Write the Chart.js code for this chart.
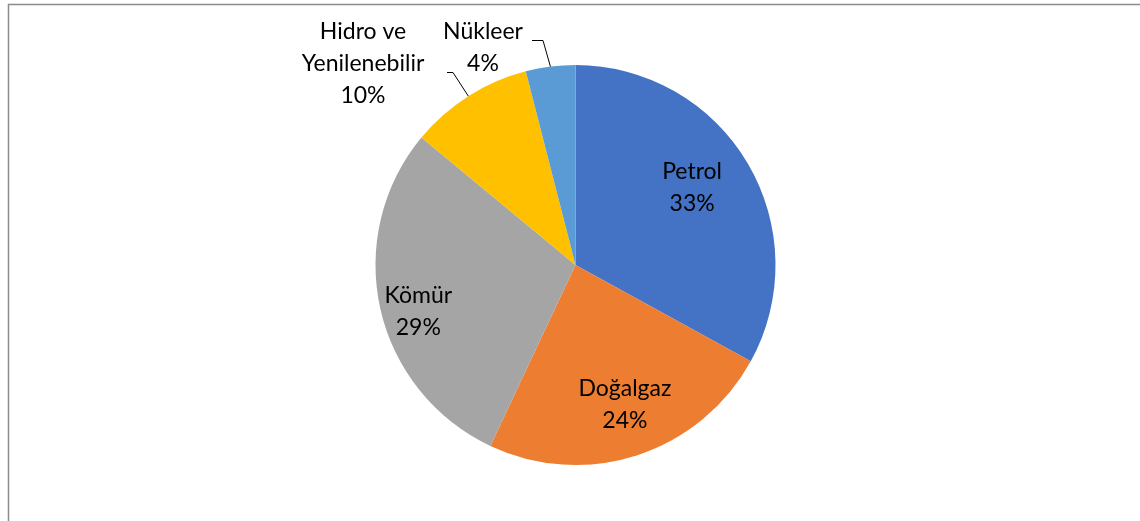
<!DOCTYPE html>
<html>
<head>
<meta charset="utf-8">
<script src="https://cdn.jsdelivr.net/npm/chart.js@4/dist/chart.umd.min.js"></script>
<style>
  html, body { margin: 0; padding: 0; background: #fff; }
  #wrap { width: 1140px; height: 521px; position: relative; }
</style>
</head>
<body>
<div id="wrap"><canvas id="myChart" width="1140" height="521"></canvas></div>
<script>
const categories = ["Petrol", "Doğalgaz", "Kömür", "Hidro ve Yenilenebilir", "Nükleer"];
const shares = [33, 24, 29, 10, 4];
const labelLines = [["Petrol"], ["Doğalgaz"], ["Kömür"], ["Hidro ve", "Yenilenebilir"], ["Nükleer"]];
const colors = ["#4472C4", "#ED7D31", "#A5A5A5", "#FFC000", "#5B9BD5"];

// label placement: inside labels use a radius factor, outside ones a fixed spot + leader line
const labelPos = [
  { inside: true, f: 0.70, da: -3 },
  { inside: true, f: 0.74, da: -1.5 },
  { inside: true, f: 0.82, da: -4 },
  { inside: false, x: 363, y: 32, bend: [453, 72], end: [447, 72] },
  { inside: false, x: 483, y: 32, bend: [543, 40], end: [532, 40] },
];

const font = "23px Lato, 'Liberation Sans', sans-serif";
const lineH = 32;

const frame = {
  id: "frame",
  beforeDraw(chart) {
    const ctx = chart.ctx;
    ctx.save();
    ctx.strokeStyle = "#8c8c8c";
    ctx.lineWidth = 1.5;
    ctx.beginPath();
    ctx.moveTo(8.5, 530);
    ctx.lineTo(8.5, 4.5);
    ctx.lineTo(1150, 4.5);
    ctx.stroke();
    ctx.restore();
  }
};

const labels = {
  id: "labels",
  afterDraw(chart) {
    const ctx = chart.ctx;
    const arcs = chart.getDatasetMeta(0).data;
    ctx.save();
    ctx.font = font;
    ctx.fillStyle = "#000";
    ctx.textAlign = "center";
    ctx.textBaseline = "middle";
    arcs.forEach(function (arc, i) {
      const p = labelPos[i];
      const lines = labelLines[i].concat([shares[i] + "%"]);
      const mid = (arc.startAngle + arc.endAngle) / 2;
      let x, y;
      if (p.inside) {
        const a = mid + p.da * Math.PI / 180;
        x = arc.x + Math.cos(a) * arc.outerRadius * p.f;
        y = arc.y + Math.sin(a) * arc.outerRadius * p.f;
        y -= (lines.length - 1) * lineH / 2;
      } else {
        x = p.x; y = p.y;
        const ex = arc.x + Math.cos(mid) * arc.outerRadius;
        const ey = arc.y + Math.sin(mid) * arc.outerRadius;
        ctx.strokeStyle = "#000";
        ctx.lineWidth = 1;
        ctx.beginPath();
        ctx.moveTo(p.end[0], p.end[1] + 0.5);
        ctx.lineTo(p.bend[0], p.bend[1] + 0.5);
        ctx.lineTo(ex, ey);
        ctx.stroke();
      }
      lines.forEach(function (t, k) {
        ctx.fillText(t, x, y + k * lineH);
      });
    });
    ctx.restore();
  }
};

new Chart(document.getElementById("myChart"), {
  type: "pie",
  data: {
    labels: categories,
    datasets: [{
      data: shares,
      backgroundColor: colors,
      borderWidth: 0,
    }],
  },
  options: {
    responsive: false,
    animation: false,
    layout: { padding: { top: 65, bottom: 56, left: 11, right: 0 } },
    plugins: {
      legend: { display: false },
      tooltip: { enabled: false },
    },
  },
  plugins: [frame, labels],
});
</script>
</body>
</html>
